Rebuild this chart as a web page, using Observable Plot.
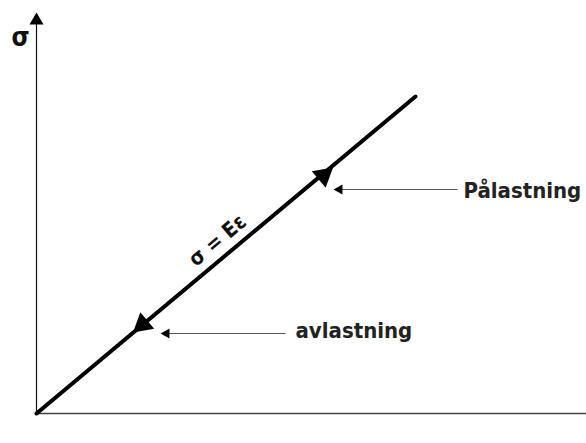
<!DOCTYPE html>
<html>
<head>
<meta charset="utf-8">
<script src="https://cdn.jsdelivr.net/npm/d3@7"></script>
<script src="https://cdn.jsdelivr.net/npm/@observablehq/plot@0.6"></script>
<style>
  html, body { margin: 0; padding: 0; background: #fff; }
  #chart { width: 586px; height: 443px; }
</style>
</head>
<body>
<div id="chart"></div>
<script>
// strain (x) and stress (y) in drawing units
const loadLineX = [0, 379];
const loadLineY = [0, 317];

// direction markers on the load line: [x, y, rotate(deg)]
const markerX = [287, 106];
const markerY = [238, 89];
const markerRotate = [50, 230];

// annotation labels
const labelText = ["Pålastning", "avlastning"];
const labelX = [427, 259];
const labelY = [223, 83];
const pointerFromX = [421, 249];
const pointerToX = [299, 126];
const pointerY = [224, 80];

// formula label
const formulaText = ["σ = Eε"];
const formulaX = [181];
const formulaY = [173];
const formulaAngle = [-40];

// axis
const axisTop = [401];
const axisRight = [550];
const axisLabel = ["σ"];

const font = "'DejaVu Sans Condensed', 'DejaVu Sans', sans-serif";

const lineData = loadLineX.map((x, i) => ({x, y: loadLineY[i]}));
const markers = markerX.map((x, i) => ({x, y: markerY[i], r: markerRotate[i]}));
const labels = labelText.map((t, i) => ({t, x: labelX[i], y: labelY[i]}));
const pointers = pointerFromX.map((x1, i) => ({x1, x2: pointerToX[i], y: pointerY[i]}));
const formula = formulaText.map((t, i) => ({t, x: formulaX[i], y: formulaY[i], a: formulaAngle[i]}));

const plot = Plot.plot({
  width: 586,
  height: 443,
  marginLeft: 36,
  marginRight: 0,
  marginTop: 12,
  marginBottom: 30,
  x: {domain: [0, axisRight[0]], axis: null},
  y: {domain: [0, axisTop[0]], axis: null},
  style: {background: "white", fontFamily: font},
  marks: [
    // x axis
    Plot.link([0], {x1: 0, x2: axisRight[0], y1: 0, y2: 0, stroke: "#444", strokeWidth: 1.5}),
    // y axis with arrowhead
    Plot.link([0], {x1: 0, x2: 0, y1: 0, y2: axisTop[0] - 10, stroke: "#111", strokeWidth: 1.2}),
    Plot.dot([0], {x: 0, y: axisTop[0] - 8, symbol: "triangle", r: 5.2, fill: "#000", stroke: null}),
    Plot.text(axisLabel, {x: -16, y: axisTop[0] - 25, text: d => d, fontSize: 26, fontWeight: "bold", fill: "#111"}),
    // load line
    Plot.line(lineData, {x: "x", y: "y", stroke: "#000", strokeWidth: 4, strokeLinecap: "round"}),
    Plot.dot(markers, {x: "x", y: "y", symbol: "triangle", r: 8, rotate: "r", fill: "#000", stroke: null}),
    // pointers
    Plot.link(pointers, {x1: "x1", x2: d => d.x2 + 6, y1: "y", y2: "y", stroke: "#555", strokeWidth: 1.2}),
    Plot.dot(pointers, {x: d => d.x2 + 4, y: "y", symbol: "triangle", r: 3.8, rotate: 270, fill: "#000", stroke: null}),
    Plot.text(labels, {x: "x", y: "y", text: "t", textAnchor: "start", fontSize: 22, fontWeight: "bold", fill: "#222"}),
    // formula
    Plot.text(formula, {x: "x", y: "y", text: "t", rotate: "a", fontSize: 21, fontWeight: "bold", fill: "#111"})
  ]
});
document.getElementById("chart").appendChild(plot);
</script>
</body>
</html>
